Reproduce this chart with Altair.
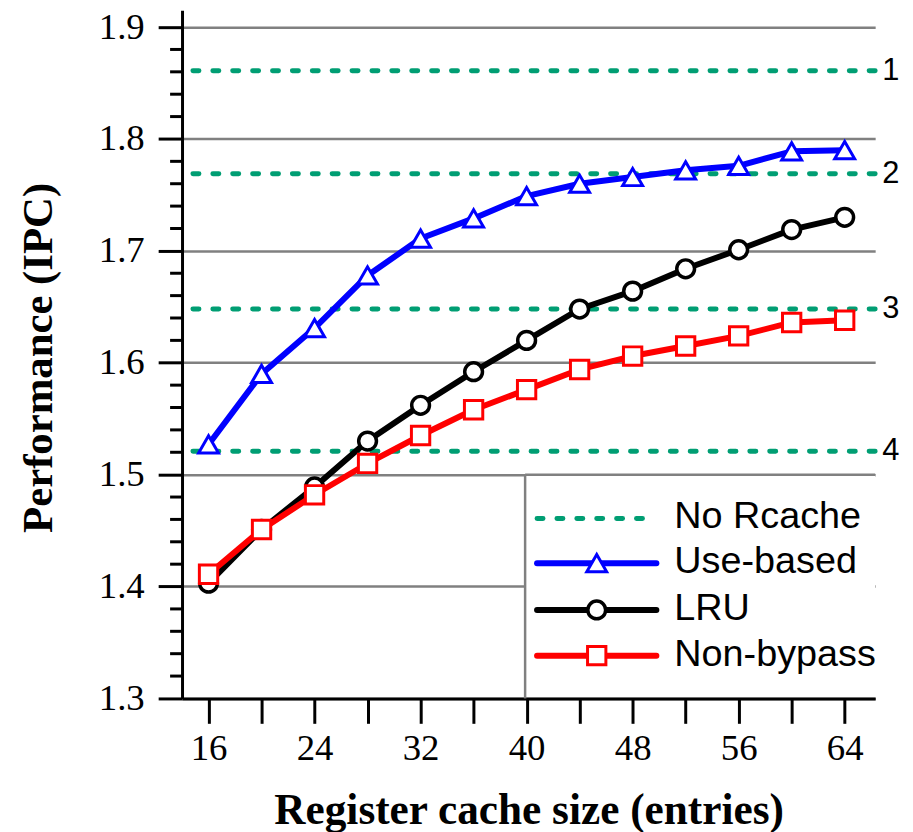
import altair as alt
import pandas as pd

# ---------------- data ----------------
sizes = [16, 20, 24, 28, 32, 36, 40, 44, 48, 52, 56, 60, 64]
use_based = [1.527, 1.590, 1.631, 1.678, 1.711, 1.729, 1.749, 1.760, 1.766, 1.772, 1.776, 1.789, 1.790]
lru = [1.403, 1.451, 1.489, 1.530, 1.562, 1.592, 1.620, 1.648, 1.664, 1.684, 1.701, 1.719, 1.730]
non_bypass = [1.411, 1.451, 1.482, 1.510, 1.535, 1.558, 1.576, 1.594, 1.606, 1.615, 1.624, 1.636, 1.638]

no_rcache = [1.861, 1.769, 1.648, 1.521]
no_rcache_labels = ["1", "2", "3", "4"]

series_names = ["Use-based", "LRU", "Non-bypass"]
legend_labels = ["No Rcache", "Use-based", "LRU", "Non-bypass"]

x_ticks = [16, 20, 24, 28, 32, 36, 40, 44, 48, 52, 56, 60, 64]
y_ticks = [1.3, 1.4, 1.5, 1.6, 1.7, 1.8, 1.9]
y_minor = [1.32, 1.34, 1.36, 1.38, 1.42, 1.44, 1.46, 1.48, 1.52, 1.54, 1.56, 1.58,
           1.62, 1.64, 1.66, 1.68, 1.72, 1.74, 1.76, 1.78, 1.82, 1.84, 1.86, 1.88]

x_title = "Register cache size (entries)"
y_title = "Performance (IPC)"

# ---------------- style ----------------
W, H = 697, 692
GREEN = "#009E73"
GRID = "#808080"
styles = {
    "Use-based": dict(color="#0000ff", shape="triangle-up", size=400, sw=3),
    "LRU": dict(color="#000000", shape="circle", size=320, sw=3.5),
    "Non-bypass": dict(color="#ff0000", shape="square", size=340, sw=3),
}
LINE_W = 6
DOT = dict(strokeDash=[6, 14], strokeCap="round", strokeWidth=5, color=GREEN)

x_enc = alt.X(
    "x:Q",
    scale=alt.Scale(domain=[14, 66.3], nice=False, zero=False),
    axis=alt.Axis(
        values=x_ticks,
        labelExpr="datum.value % 8 === 0 ? datum.label : ''",
        tickSize=25, tickWidth=3, tickColor="black",
        domainColor="black", domainWidth=3, grid=False,
        labelFont="Liberation Serif", labelFontSize=37, labelColor="black",
        labelPadding=7, labelFlush=False,
        title=x_title, titleFont="Liberation Serif", titleFontSize=43.5,
        titleFontWeight="bold", titleColor="black",
        titleBaseline="alphabetic", titleY=126,
    ),
)

y_axis = alt.Axis(
    values=y_ticks, format=".1f",
    tickSize=24, tickWidth=3, tickColor="black",
    domainColor="black", domainWidth=3,
    grid=True, gridColor=GRID, gridWidth=2.5,
    labelFont="Liberation Serif", labelFontSize=37, labelColor="black",
    labelPadding=14,
    title=y_title, titleFont="Liberation Serif", titleFontSize=43,
    titleFontWeight="bold", titleColor="black",
    titleAngle=270, titleBaseline="alphabetic", titleAlign="center",
    titleX=-131, titleY=349,
)
y_scale = alt.Scale(domain=[1.3, 1.915], nice=False, zero=False)


def Y(field):
    return alt.Y(field, scale=y_scale, axis=y_axis)


layers = []

# minor ticks on the y axis
minor_df = pd.DataFrame({"y": y_minor})
layers.append(
    alt.Chart(minor_df).mark_rule(color="black", strokeWidth=3).encode(
        y=Y("y:Q"), x=alt.value(-12), x2=alt.value(0)
    )
)

# No Rcache dotted reference lines
ref_df = pd.DataFrame({"y": no_rcache, "label": no_rcache_labels})
layers.append(alt.Chart(ref_df).mark_rule(**DOT).encode(y=Y("y:Q")))
layers.append(
    alt.Chart(ref_df).mark_text(
        align="left", baseline="middle", font="Liberation Sans", fontSize=31, color="black"
    ).encode(y=Y("y:Q"), x=alt.value(704), text="label:N")
)

# series
series_values = {"Use-based": use_based, "LRU": lru, "Non-bypass": non_bypass}
for name in series_names:
    st = styles[name]
    df = pd.DataFrame({"x": sizes, "y": series_values[name]})
    base = alt.Chart(df)
    layers.append(base.mark_line(color=st["color"], strokeWidth=LINE_W, strokeJoin="round").encode(x=x_enc, y=Y("y:Q")))
    layers.append(
        base.mark_point(
            shape=st["shape"], size=st["size"], filled=True, fill="white",
            stroke=st["color"], strokeWidth=st["sw"], opacity=1,
        ).encode(x=x_enc, y=Y("y:Q"))
    )

# ---------------- legend (drawn box) ----------------
one = pd.DataFrame({"a": [0]})
LX0, LX1, LY0, LY1 = 345, 697, 467, 690
layers.append(
    alt.Chart(one).mark_rect(fill="white").encode(
        x=alt.value(LX0), x2=alt.value(LX1), y=alt.value(LY0), y2=alt.value(LY1)
    )
)
layers.append(
    alt.Chart(one).mark_rule(color=GRID, strokeWidth=2.5).encode(
        x=alt.value(LX0), x2=alt.value(LX1), y=alt.value(LY0)
    )
)
layers.append(
    alt.Chart(one).mark_rule(color=GRID, strokeWidth=2.5).encode(
        x=alt.value(LX0), y=alt.value(LY0), y2=alt.value(692)
    )
)

row_y = [511, 556, 603, 649]
sym_x0, sym_x1, sym_mid, text_x = 357, 477, 417, 495
for i, lab in enumerate(legend_labels):
    ldf = pd.DataFrame({"label": [lab]})
    ry = row_y[i]
    if i == 0:
        layers.append(
            alt.Chart(ldf).mark_rule(**DOT).encode(
                x=alt.value(sym_x0), x2=alt.value(469), y=alt.value(ry)
            )
        )
    else:
        st = styles[lab]
        layers.append(
            alt.Chart(ldf).mark_rule(color=st["color"], strokeWidth=LINE_W, strokeCap="round").encode(
                x=alt.value(sym_x0), x2=alt.value(sym_x1), y=alt.value(ry)
            )
        )
        layers.append(
            alt.Chart(ldf).mark_point(
                shape=st["shape"], size=st["size"], filled=True, fill="white",
                stroke=st["color"], strokeWidth=st["sw"], opacity=1,
            ).encode(x=alt.value(sym_mid), y=alt.value(ry))
        )
    layers.append(
        alt.Chart(ldf).mark_text(
            align="left", baseline="middle", font="Liberation Sans", fontSize=38, color="black"
        ).encode(x=alt.value(text_x), y=alt.value(ry - 1), text="label:N")
    )

chart = (
    alt.layer(*layers)
    .properties(
        width=W, height=H,
        padding={"left": 175, "top": 0, "right": 30, "bottom": 132},
        autosize=alt.AutoSizeParams(type="none"),
        background="white",
    )
    .configure_view(stroke=None)
)

chart.save("out.html", embed_options={"renderer": "svg", "actions": False})
